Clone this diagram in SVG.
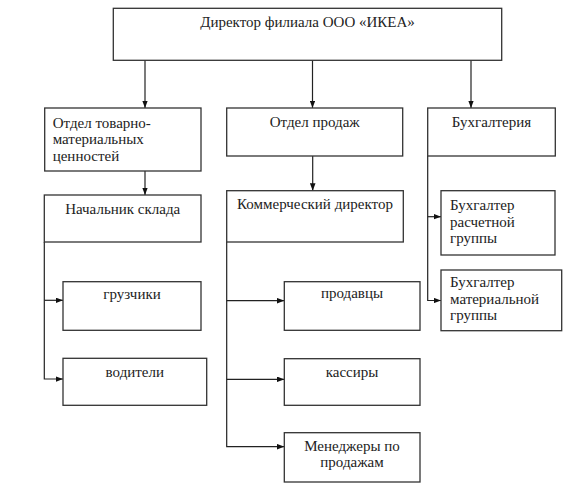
<svg xmlns="http://www.w3.org/2000/svg" width="575" height="500" viewBox="0 0 575 500">
<style>
.box{fill:#fff;stroke:#333;stroke-width:1.3}
.t{font-family:"Liberation Serif","Times New Roman",serif;font-size:15px;fill:#222}
.c{text-anchor:middle}
.ln{fill:none;stroke:#222;stroke-width:1.2}
</style>
<defs>
<marker id="ah" viewBox="0 0 8 6" refX="8" refY="3" markerWidth="7.5" markerHeight="5.6" markerUnits="userSpaceOnUse" orient="auto">
<path d="M0,0 L8,3 L0,6 z" fill="#111"/>
</marker>
</defs>
<rect width="575" height="500" fill="#fff"/>
<g id="connectors">
<line class="ln" x1="145" y1="60.3" x2="145" y2="108" marker-end="url(#ah)"/>
<line class="ln" x1="312.5" y1="60.3" x2="312.5" y2="108" marker-end="url(#ah)"/>
<line class="ln" x1="471" y1="60.3" x2="471" y2="108" marker-end="url(#ah)"/>
<line class="ln" x1="145" y1="171" x2="145" y2="195" marker-end="url(#ah)"/>
<line class="ln" x1="312.7" y1="156" x2="312.7" y2="190.7" marker-end="url(#ah)"/>
<polyline class="ln" points="44.3,242 44.3,379 63,379" marker-end="url(#ah)"/>
<line class="ln" x1="44.3" y1="300.3" x2="63" y2="300.3" marker-end="url(#ah)"/>
<polyline class="ln" points="226.7,242 226.7,446.7 284.3,446.7" marker-end="url(#ah)"/>
<line class="ln" x1="226.7" y1="300.7" x2="284.3" y2="300.7" marker-end="url(#ah)"/>
<line class="ln" x1="226.7" y1="379.3" x2="284.3" y2="379.3" marker-end="url(#ah)"/>
<polyline class="ln" points="427.7,156 427.7,300.5 441,300.5" marker-end="url(#ah)"/>
<line class="ln" x1="427.7" y1="216.7" x2="441" y2="216.7" marker-end="url(#ah)"/>
</g>
<g id="director">
<rect class="box" x="113.3" y="8.3" width="388.4" height="52"/>
<text class="t c" x="307.5" y="27">Директор филиала ООО «ИКЕА»</text>
</g>
<g id="dept-tmc">
<rect class="box" x="44.7" y="108" width="156.3" height="63"/>
<text class="t" x="52.7" y="127.5">Отдел товарно-</text>
<text class="t" x="52.7" y="144">материальных</text>
<text class="t" x="52.7" y="161">ценностей</text>
</g>
<g id="dept-sales">
<rect class="box" x="226.7" y="108" width="176" height="48"/>
<text class="t c" x="314.7" y="127">Отдел продаж</text>
</g>
<g id="dept-accounting">
<rect class="box" x="427.7" y="108" width="127.6" height="48"/>
<text class="t c" x="491.5" y="127">Бухгалтерия</text>
</g>
<g id="warehouse-head">
<rect class="box" x="44.3" y="195" width="156.7" height="47"/>
<text class="t c" x="122.7" y="214">Начальник склада</text>
</g>
<g id="commercial-director">
<rect class="box" x="226.7" y="190.7" width="176.6" height="51.3"/>
<text class="t c" x="315" y="208.5">Коммерческий директор</text>
</g>
<g id="loaders">
<rect class="box" x="63" y="281.7" width="138" height="48.6"/>
<text class="t c" x="132" y="299.3">грузчики</text>
</g>
<g id="drivers">
<rect class="box" x="63" y="358.3" width="143.7" height="47"/>
<text class="t c" x="134.8" y="376.7">водители</text>
</g>
<g id="sellers">
<rect class="box" x="284.3" y="281.7" width="135.7" height="48.6"/>
<text class="t c" x="352" y="298.3">продавцы</text>
</g>
<g id="cashiers">
<rect class="box" x="284.3" y="358.7" width="135.7" height="46.6"/>
<text class="t c" x="352" y="376.7">кассиры</text>
</g>
<g id="sales-managers">
<rect class="box" x="284.3" y="432.7" width="135.7" height="49.3"/>
<text class="t c" x="352" y="450.5">Менеджеры по</text>
<text class="t c" x="352" y="466.5">продажам</text>
</g>
<g id="accountant-settlement">
<rect class="box" x="441" y="190.7" width="114" height="64.3"/>
<text class="t" x="450" y="210">Бухгалтер</text>
<text class="t" x="450" y="226.5">расчетной</text>
<text class="t" x="450" y="243">группы</text>
</g>
<g id="accountant-material">
<rect class="box" x="441" y="270" width="120.7" height="60.7"/>
<text class="t" x="450" y="287.3">Бухгалтер</text>
<text class="t" x="450" y="304">материальной</text>
<text class="t" x="450" y="320">группы</text>
</g>
</svg>
